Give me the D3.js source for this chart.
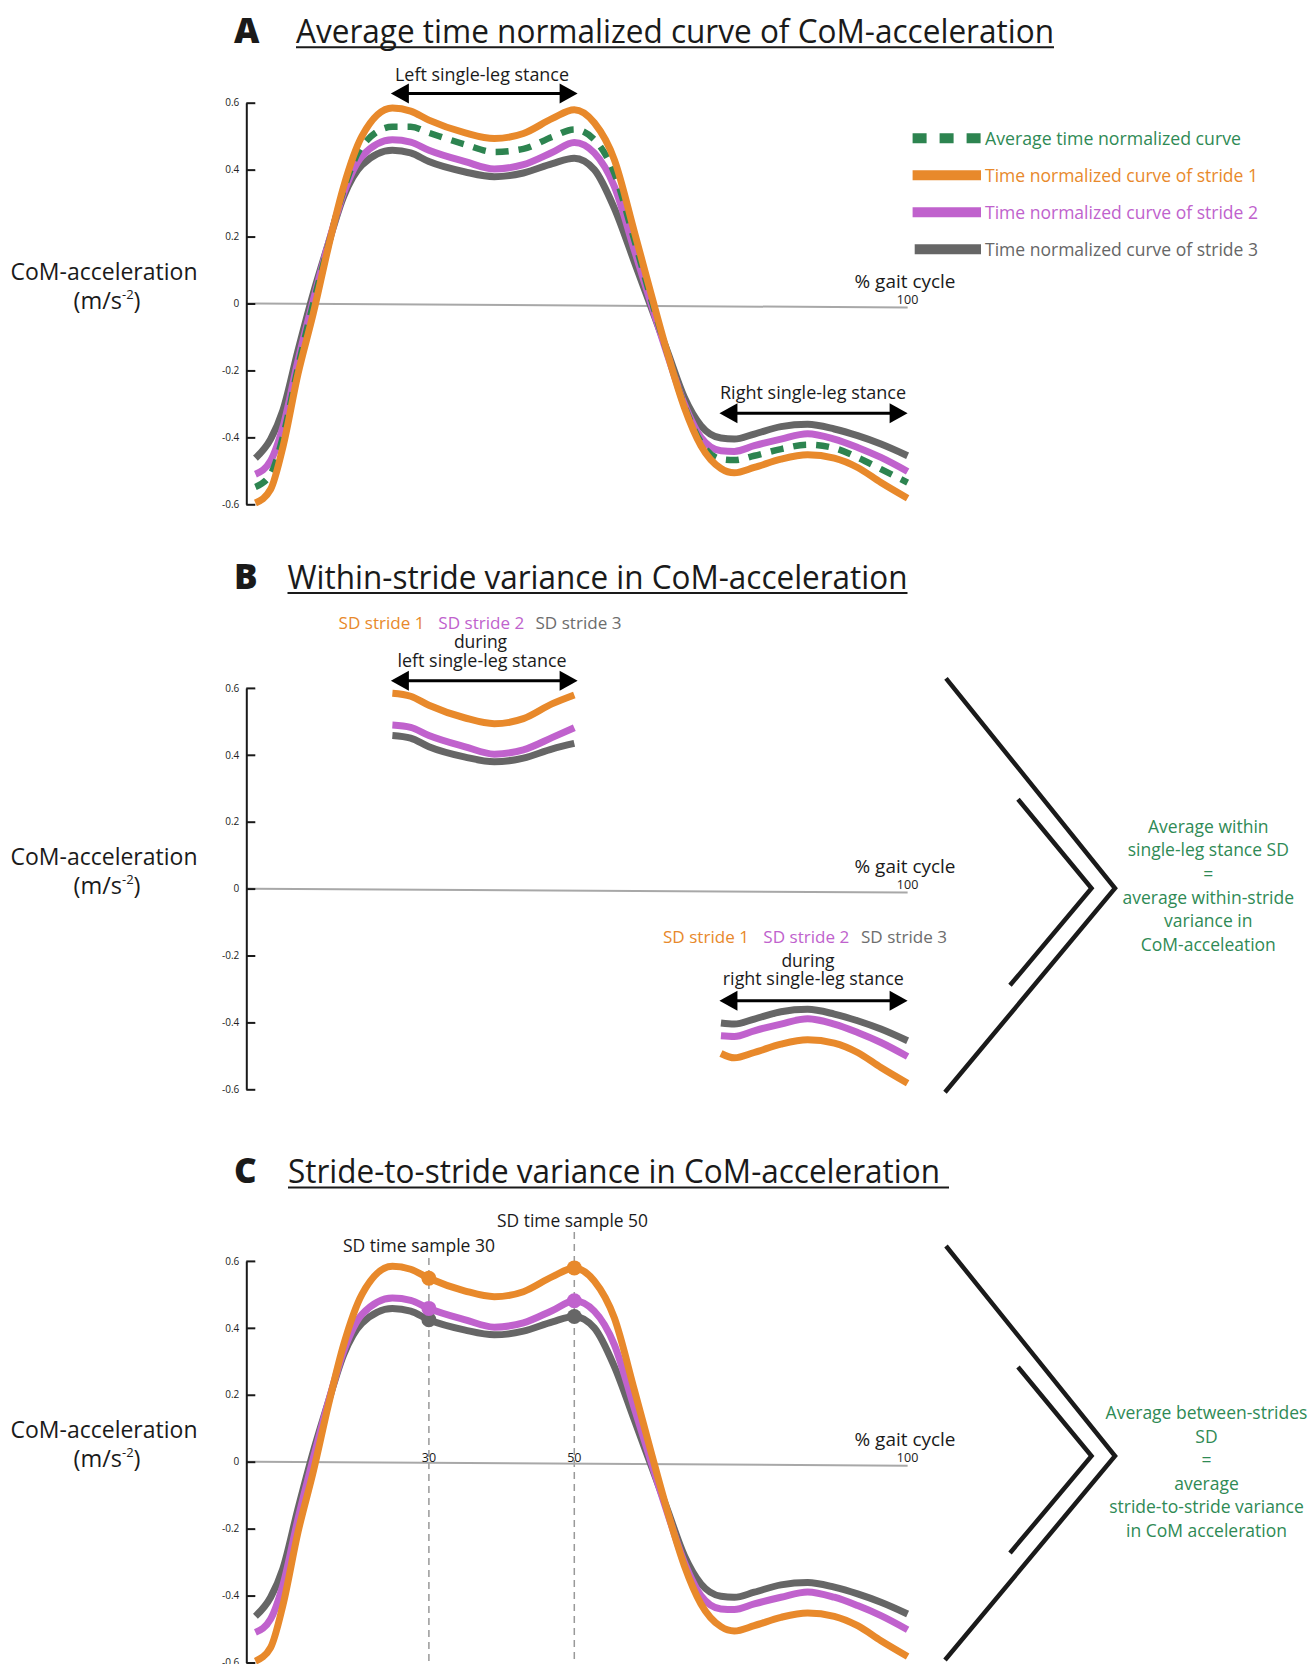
<!DOCTYPE html>
<html>
<head>
<meta charset="utf-8">
<script src="https://cdn.jsdelivr.net/npm/d3@7"></script>
<style>
  body { margin: 0; background: #fff; }
  text { font-family: "Open Sans", "Noto Sans", sans-serif; }
</style>
</head>
<body>
<div class="chart"></div>
<script>
// ---- data ----
// x = % of gait cycle, y = CoM-acceleration (m/s-2)
var gaitPct = [1.5, 4, 6, 8.5, 11, 13.5, 16, 19, 24, 27, 30, 35, 39, 43, 47, 50,
  53, 56, 59, 61.5, 64, 66.5, 69, 72, 74, 77, 81, 85, 89, 92.5, 96, 100];

var stride1 = [-0.596, -0.555, -0.43, -0.21, -0.03, 0.17, 0.35, 0.50, 0.584, 0.575, 0.548, 0.51, 0.493, 0.508, 0.553, 0.579,
  0.54, 0.43, 0.215, 0.03, -0.15, -0.31, -0.425, -0.493, -0.506, -0.49, -0.465, -0.452, -0.462, -0.49, -0.535, -0.582];
var stride2 = [-0.51, -0.47, -0.37, -0.17, 0.01, 0.18, 0.33, 0.44, 0.489, 0.482, 0.458, 0.424, 0.402, 0.415, 0.452, 0.481,
  0.45, 0.35, 0.16, 0.0, -0.155, -0.30, -0.40, -0.44, -0.442, -0.425, -0.405, -0.389, -0.405, -0.43, -0.46, -0.502];
var stride3 = [-0.462, -0.405, -0.32, -0.14, 0.03, 0.18, 0.32, 0.414, 0.458, 0.45, 0.424, 0.393, 0.379, 0.39, 0.418, 0.434,
  0.40, 0.285, 0.125, -0.01, -0.145, -0.28, -0.365, -0.402, -0.405, -0.39, -0.368, -0.361, -0.375, -0.395, -0.42, -0.455];
var avgCurve = [-0.548, -0.51, -0.40, -0.19, 0.0, 0.175, 0.34, 0.47, 0.528, 0.528, 0.51, 0.475, 0.453, 0.462, 0.498, 0.52,
  0.49, 0.39, 0.19, 0.015, -0.15, -0.305, -0.415, -0.465, -0.468, -0.455, -0.435, -0.422, -0.432, -0.46, -0.495, -0.535];

var yTicks = [-0.6, -0.4, -0.2, 0, 0.2, 0.4, 0.6];
var xTickLabels = [30, 50, 100];
var leftStance = [24, 50.5];
var rightStance = [72, 100];
var sdSamples = [30, 50];

var legendLabels = ["Average time normalized curve", "Time normalized curve of stride 1",
  "Time normalized curve of stride 2", "Time normalized curve of stride 3"];
var sdLabels = ["SD stride 1", "SD stride 2", "SD stride 3"];
var withinText = ["Average within", "single-leg stance SD", "=", "average within-stride", "variance in", "CoM-acceleation"];
var betweenText = ["Average between-strides", "SD", "=", "average", "stride-to-stride variance", "in CoM acceleration"];

var colors = { avg: "#2d8450", s1: "#e8892b", s2: "#c062cd", s3: "#666666", note: "#2f8a55", ink: "#1a1a1a" };

// ========================================================
var svgWidth = 1311;
var svgHeight = 1664;

var svg = d3.select(".chart")
  .append("svg")
  .attr("width", svgWidth)
  .attr("height", svgHeight);

var rows = gaitPct.map(function(g, i) {
  return { g: g, s1: stride1[i], s2: stride2[i], s3: stride3[i], avg: avgCurve[i] };
});

// the drawing is not quite linear along x, so use a piecewise scale
var x = d3.scaleLinear().domain([0, 30, 50, 100]).range([246.3, 428.9, 574.3, 907.6]);

function makeY(top, bottom) {
  return d3.scaleLinear().domain([-0.6, 0.6]).range([bottom, top]);
}

function addText(str, xPos, yPos, opts) {
  opts = opts || {};
  var t = svg.append("text")
    .attr("x", xPos)
    .attr("y", yPos)
    .attr("font-size", opts.size || 17.5)
    .attr("fill", opts.color || colors.ink)
    .attr("text-anchor", opts.anchor || "start")
    .text(str);
  if (opts.width) t.attr("textLength", opts.width).attr("lengthAdjust", "spacingAndGlyphs");
  if (opts.weight) t.attr("font-weight", opts.weight);
  if (opts.family) t.attr("font-family", opts.family);
  return t;
}

function title(letter, str, baseline, x0, width) {
  addText(letter, 234, baseline, { size: 35, weight: 900, family: "Lato, Roboto, sans-serif" });
  addText(str, x0, baseline, { size: 32, width: width });
  svg.append("line")
    .attr("x1", x0).attr("x2", x0 + width + (letter === "C" ? 9 : 0))
    .attr("y1", baseline + 4.5).attr("y2", baseline + 4.5)
    .attr("stroke", colors.ink).attr("stroke-width", 2);
}

function drawAxes(y, showSamples) {
  var leftAxis = d3.axisLeft(y)
    .tickValues(yTicks)
    .tickSize(-9)
    .tickSizeOuter(0)
    .tickPadding(7)
    .tickFormat(function(d) { return d === 0 ? "0" : d.toFixed(1); });

  // gray zero line (slightly tilted like the original)
  svg.append("line")
    .attr("x1", x(0)).attr("y1", y(0))
    .attr("x2", x(100)).attr("y2", y(0) + 4)
    .attr("stroke", "#a8a8a8").attr("stroke-width", 2);

  var g = svg.append("g")
    .attr("transform", "translate(" + x(0) + ",0)")
    .attr("font-family", "Open Sans, sans-serif")
    .attr("font-size", 12.5)
    .call(leftAxis);
  g.select(".domain").attr("stroke", colors.ink).attr("stroke-width", 2);
  g.selectAll(".tick line").attr("stroke", colors.ink).attr("stroke-width", 2);
  g.selectAll(".tick text").attr("fill", "#222");

  // y label
  addText("CoM-acceleration", 104, y(0) - 24, { size: 23.5, anchor: "middle", width: 187 });
  var unit = addText("", 107, y(0) + 5.5, { size: 23.5, anchor: "middle" });
  unit.append("tspan").text("(m/s");
  unit.append("tspan").attr("font-size", 13).attr("dy", -10).text("-2");
  unit.append("tspan").attr("dy", 10).text(")");

  // x labels
  addText("% gait cycle", 905, y(0) - 16, { size: 18.5, anchor: "middle", width: 101 });
  xTickLabels.forEach(function(v) {
    if (v === 100 || showSamples) {
      addText(v, x(v), y(0) + (v === 100 ? 0.5 : 0), { size: 12.5, anchor: "middle" });
    }
  });
}

function drawCurve(y, key, data, dashed) {
  var line = d3.line()
    .x(function(d) { return x(d.g); })
    .y(function(d) { return y(d[key]); })
    .curve(d3.curveMonotoneX);
  var p = svg.append("path")
    .datum(data)
    .attr("d", line)
    .attr("fill", "none")
    .attr("stroke", colors[key])
    .attr("stroke-width", dashed ? 6.5 : 7);
  if (dashed) p.attr("stroke-dasharray", "13,10");
  return p;
}

function arrow(range, yPos) {
  var x1 = x(range[0]) - 1.5, x2 = x(range[1]);
  svg.append("line")
    .attr("x1", x1 + 10).attr("x2", x2 - 10)
    .attr("y1", yPos).attr("y2", yPos)
    .attr("stroke", "#000").attr("stroke-width", 3);
  svg.append("path")
    .attr("d", "M" + x1 + "," + yPos + "L" + (x1 + 18) + "," + (yPos - 10) + "L" + (x1 + 18) + "," + (yPos + 10) + "Z")
    .attr("fill", "#000");
  svg.append("path")
    .attr("d", "M" + x2 + "," + yPos + "L" + (x2 - 18) + "," + (yPos - 10) + "L" + (x2 - 18) + "," + (yPos + 10) + "Z")
    .attr("fill", "#000");
}

function bracket(cy, textLines, textX, baseline0) {
  var outer = [[946, cy - 210], [1115, cy], [945, cy + 204]];
  var inner = [[1018, cy - 89], [1091.5, cy], [1010, cy + 97]];
  [outer, inner].forEach(function(pts) {
    svg.append("path")
      .attr("d", d3.line()(pts))
      .attr("fill", "none")
      .attr("stroke", colors.ink)
      .attr("stroke-width", 4.5)
      .attr("stroke-linejoin", "miter");
  });
  textLines.forEach(function(s, i) {
    addText(s, textX, baseline0 + i * 23.6, { size: 17.5, anchor: "middle", color: colors.note });
  });
}

function sdRow(xStarts, baseline) {
  var keys = ["s1", "s2", "s3"];
  sdLabels.forEach(function(s, i) {
    addText(s, xStarts[i], baseline, { size: 16.5, width: 86, color: i === 2 ? "#6d6d6d" : colors[keys[i]] });
  });
}

// ================= Panel A =================
title("A", "Average time normalized curve of CoM-acceleration", 42.7, 296, 758);
var yA = makeY(102.7, 504.3);
drawAxes(yA, false);
drawCurve(yA, "s3", rows);
drawCurve(yA, "s2", rows);
drawCurve(yA, "avg", rows, true);
drawCurve(yA, "s1", rows);

addText("Left single-leg stance", 482, 80.7, { size: 17.5, anchor: "middle", width: 174 });
arrow(leftStance, 93.5);
addText("Right single-leg stance", 813, 399.3, { size: 17.5, anchor: "middle", width: 186 });
arrow(rightStance, 413.3);

// legend
var legendKeys = ["avg", "s1", "s2", "s3"];
legendKeys.forEach(function(k, i) {
  var ly = 138.3 + i * 37;
  svg.append("line")
    .attr("x1", k === "s3" ? 914.7 : 912.6).attr("x2", 981)
    .attr("y1", ly).attr("y2", ly)
    .attr("stroke", colors[k])
    .attr("stroke-width", 10)
    .attr("stroke-dasharray", k === "avg" ? "14,13" : null);
  addText(legendLabels[i], 985, ly + 7, { size: 18.5, width: k === "avg" ? 256 : 273, color: k === "avg" ? colors.note : colors[k] });
});

// ================= Panel B =================
title("B", "Within-stride variance in CoM-acceleration", 588.5, 287.5, 620);
var yB = makeY(687.9, 1089.3);
drawAxes(yB, false);

var leftRows = rows.filter(function(d) { return d.g >= leftStance[0] && d.g <= leftStance[1]; });
var rightRows = rows.filter(function(d) { return d.g >= rightStance[0] && d.g <= rightStance[1]; });
["s3", "s2", "s1"].forEach(function(k) {
  drawCurve(yB, k, leftRows);
  drawCurve(yB, k, rightRows);
});

sdRow([338.6, 438.3, 535.5], 629.3);
addText("during", 480.5, 648.3, { size: 17.5, anchor: "middle" });
addText("left single-leg stance", 482, 666.7, { size: 17.5, anchor: "middle", width: 169 });
arrow(leftStance, 680.7);

sdRow([663, 763.3, 861], 943.3);
addText("during", 808, 966.7, { size: 17.5, anchor: "middle" });
addText("right single-leg stance", 813.3, 985, { size: 17.5, anchor: "middle", width: 181 });
arrow(rightStance, 1000.7);

bracket(888.3, withinText, 1208.3, 832.7);

// ================= Panel C =================
title("C", "Stride-to-stride variance in CoM-acceleration", 1183, 288, 652);
var yC = makeY(1260.9, 1662.5);

// dashed guides for the sampled time points
var guideTop = { 30: 1258, 50: 1232 };
sdSamples.forEach(function(s) {
  svg.append("line")
    .attr("x1", x(s)).attr("x2", x(s))
    .attr("y1", guideTop[s]).attr("y2", svgHeight)
    .attr("stroke", "#999").attr("stroke-width", 1.5)
    .attr("stroke-dasharray", "7,5");
});

drawAxes(yC, true);
["s3", "s2", "s1"].forEach(function(k) { drawCurve(yC, k, rows); });

var sampleRows = rows.filter(function(d) { return sdSamples.indexOf(d.g) >= 0; });
["s3", "s2", "s1"].forEach(function(k) {
  svg.selectAll("circle." + k)
    .data(sampleRows)
    .enter()
    .append("circle")
    .attr("class", k)
    .attr("cx", function(d) { return x(d.g); })
    .attr("cy", function(d) { return yC(d[k]); })
    .attr("r", 7.5)
    .attr("fill", colors[k]);
});

addText("SD time sample 30", 419, 1251.7, { size: 17.5, anchor: "middle", width: 152 });
addText("SD time sample 50", 572.5, 1226.7, { size: 17.5, anchor: "middle", width: 151 });

bracket(1456, betweenText, 1206.5, 1419);
</script>
</body>
</html>
